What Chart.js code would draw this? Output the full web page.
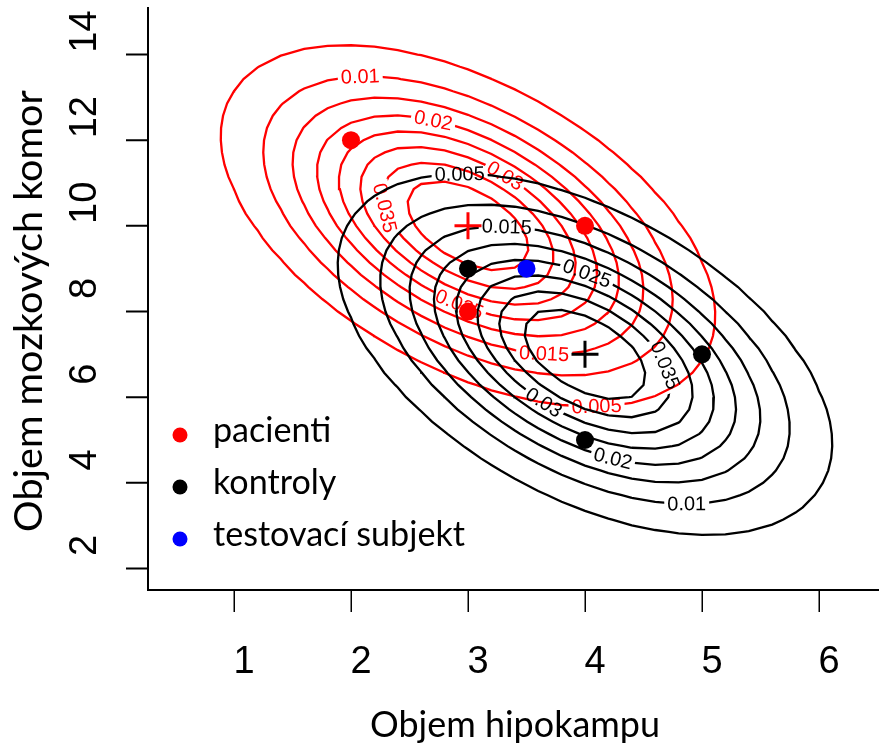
<!DOCTYPE html>
<html>
<head>
<meta charset="utf-8">
<script src="https://cdn.jsdelivr.net/npm/chart.js@4.4.0/dist/chart.umd.min.js"></script>
<style>body{margin:0;background:#fff}</style>
</head>
<body>
<canvas id="graf" width="879" height="748"></canvas>
<script>
// --- data ---
const pacientiX = [2, 4, 3];
const pacientiY = [12, 10, 8];
const kontrolyX = [3, 4, 5];
const kontrolyY = [9, 5, 7];
const testX = [3.5];
const testY = [9];
const urovne = [0.005, 0.01, 0.015, 0.02, 0.025, 0.03, 0.035, 0.04];
const apriorni = 0.5;
const xTicks = [1, 2, 3, 4, 5, 6];
const yTicks = [2, 4, 6, 8, 10, 12, 14];
const legendaTexty = ['pacienti', 'kontroly', 'testovací subjekt'];

// kde zhruba sedí popisky vrstevnic (hladina, x, y)
const stitkyPacienti = [
    { hladina: 0.01, x: 2.08, y: 13.32 },
    { hladina: 0.02, x: 2.69, y: 12.29 },
    { hladina: 0.03, x: 3.27, y: 10.94 },
    { hladina: 0.035, x: 2.35, y: 10.47 },
    { hladina: 0.025, x: 2.93, y: 8.2 },
    { hladina: 0.015, x: 3.65, y: 6.96 },
    { hladina: 0.005, x: 4.1, y: 5.67 }
];
const stitkyKontroly = [
    { hladina: 0.005, x: 2.93, y: 11.05 },
    { hladina: 0.015, x: 3.33, y: 9.81 },
    { hladina: 0.025, x: 3.99, y: 8.71 },
    { hladina: 0.035, x: 4.53, y: 6.56 },
    { hladina: 0.03, x: 3.63, y: 5.79 },
    { hladina: 0.02, x: 4.23, y: 4.46 },
    { hladina: 0.01, x: 4.87, y: 3.45 }
];

const CERVENA = '#ff0000', CERNA = '#000000', MODRA = '#0000ff';
const CISLA = '"Liberation Sans", Arial, sans-serif';
const TEXT = 'Lato, "Open Sans", sans-serif';

// 1. odhad normálního rozdělení ze skupiny
function odhad(xs, ys) {
    const n = xs.length;
    const mx = xs.reduce((a, b) => a + b) / n, my = ys.reduce((a, b) => a + b) / n;
    let sxx = 0, syy = 0, sxy = 0;
    for (let i = 0; i < n; i++) {
        const dx = xs[i] - mx, dy = ys[i] - my;
        sxx += dx * dx; syy += dy * dy; sxy += dx * dy;
    }
    return { mx, my, sxx: sxx / (n - 1), syy: syy / (n - 1), sxy: sxy / (n - 1) };
}
function hustota(p, x, y) {
    const det = p.sxx * p.syy - p.sxy * p.sxy;
    const dx = x - p.mx, dy = y - p.my;
    const q = (p.syy * dx * dx - 2 * p.sxy * dx * dy + p.sxx * dy * dy) / det;
    return apriorni * Math.exp(-q / 2) / (2 * Math.PI * Math.sqrt(det));
}

// 2. vrstevnice na hrubé mřížce (jako contour v R)
const gx = [], gy = [];
for (let i = 0; i <= 40; i++) gx.push(i * 0.2);
for (let j = 0; j <= 56; j++) gy.push(j * 2 / 7);

function vrstevnice(p, L) {
    const v = gy.map(y => gx.map(x => hustota(p, x, y)));
    const bod = {}, sousede = {};
    function hrana(typ, i, j) {
        const id = typ + i + '_' + j;
        if (!bod[id]) {
            let x0, y0, x1, y1, v0, v1;
            if (typ === 'h') { x0 = gx[i]; x1 = gx[i + 1]; y0 = y1 = gy[j]; v0 = v[j][i]; v1 = v[j][i + 1]; }
            else { x0 = x1 = gx[i]; y0 = gy[j]; y1 = gy[j + 1]; v0 = v[j][i]; v1 = v[j + 1][i]; }
            const t = (L - v0) / (v1 - v0);
            bod[id] = { x: x0 + t * (x1 - x0), y: y0 + t * (y1 - y0) };
        }
        return id;
    }
    function spoj(a, b) {
        (sousede[a] = sousede[a] || []).push(b);
        (sousede[b] = sousede[b] || []).push(a);
    }
    for (let j = 0; j < gy.length - 1; j++) {
        for (let i = 0; i < gx.length - 1; i++) {
            const a = v[j][i] > L, b = v[j][i + 1] > L, c = v[j + 1][i + 1] > L, d = v[j + 1][i] > L;
            const hr = [];
            if (a !== b) hr.push(hrana('h', i, j));
            if (b !== c) hr.push(hrana('v', i + 1, j));
            if (c !== d) hr.push(hrana('h', i, j + 1));
            if (d !== a) hr.push(hrana('v', i, j));
            if (hr.length === 2) spoj(hr[0], hr[1]);
            else if (hr.length === 4) {
                const stred = (v[j][i] + v[j][i + 1] + v[j + 1][i + 1] + v[j + 1][i]) / 4 > L;
                if (stred === a) { spoj(hr[0], hr[1]); spoj(hr[2], hr[3]); }
                else { spoj(hr[0], hr[3]); spoj(hr[1], hr[2]); }
            }
        }
    }
    const hotovo = new Set(), cary = [];
    const ids = Object.keys(sousede);
    const starty = ids.filter(id => sousede[id].length === 1).concat(ids);
    for (const start of starty) {
        if (hotovo.has(start)) continue;
        const cara = [];
        let akt = start, pred = null;
        while (akt && !hotovo.has(akt)) {
            hotovo.add(akt);
            cara.push(bod[akt]);
            const dalsi = sousede[akt].find(n => n !== pred && !hotovo.has(n));
            pred = akt; akt = dalsi;
        }
        if (sousede[start].length === 2 && sousede[start].includes(pred)) cara.push(bod[start]);
        cary.push(cara);
    }
    return cary;
}

function vrstevniceDatasety(xs, ys, barva, stitky, poradi) {
    const p = odhad(xs, ys);
    return urovne.map(L => {
        const cary = vrstevnice(p, L);
        const data = [];
        cary.forEach(c => { c.forEach(b => data.push(b)); data.push({ x: NaN, y: NaN }); });
        return {
            data, showLine: true, borderColor: barva, borderWidth: 2.3, pointRadius: 0,
            spanGaps: false, tension: 0, order: poradi,
            cary, popisky: stitky.filter(s => s.hladina === L)
        };
    });
}

const odhadP = odhad(pacientiX, pacientiY), odhadK = odhad(kontrolyX, kontrolyY);
const body = (xs, ys) => xs.map((x, i) => ({ x, y: ys[i] }));

// 3. popisky vrstevnic s přerušením čáry
const popiskyPlugin = {
    id: 'popisky',
    beforeDatasetsDraw(chart) {
        const sx = chart.scales.x, sy = chart.scales.y, ctx = chart.ctx;
        ctx.save();
        ctx.font = '20px ' + CISLA;
        chart.data.datasets.forEach(ds => {
            ds._boxy = [];
            (ds.popisky || []).forEach(s => {
                const cary = ds.cary.map(c => c.map(b => ({ x: sx.getPixelForValue(b.x), y: sy.getPixelForValue(b.y) })));
                const ax = sx.getPixelForValue(s.x), ay = sy.getPixelForValue(s.y);
                let best = null;
                cary.forEach((c, ci) => {
                    for (let k = 0; k < c.length - 1; k++) {
                        const p0 = c[k], p1 = c[k + 1];
                        const vx = p1.x - p0.x, vy = p1.y - p0.y, l2 = vx * vx + vy * vy || 1e-9;
                        let t = ((ax - p0.x) * vx + (ay - p0.y) * vy) / l2;
                        t = Math.max(0, Math.min(1, t));
                        const px = p0.x + t * vx, py = p0.y + t * vy;
                        const d = Math.hypot(ax - px, ay - py);
                        if (!best || d < best.d) best = { ci, k, t, d, px, py };
                    }
                });
                if (!best) return;
                const c = cary[best.ci];
                const cum = [0];
                for (let k = 0; k < c.length - 1; k++) cum.push(cum[k] + Math.hypot(c[k + 1].x - c[k].x, c[k + 1].y - c[k].y));
                const total = cum[cum.length - 1];
                const zavrena = Math.hypot(c[0].x - c[c.length - 1].x, c[0].y - c[c.length - 1].y) < 0.5;
                const s0 = cum[best.k] + best.t * (cum[best.k + 1] - cum[best.k]);
                const bodNa = s => {
                    if (zavrena) s = ((s % total) + total) % total; else s = Math.max(0, Math.min(total, s));
                    let k = 0;
                    while (k < cum.length - 2 && cum[k + 1] < s) k++;
                    const seg = cum[k + 1] - cum[k] || 1e-9, t = (s - cum[k]) / seg;
                    return { x: c[k].x + t * (c[k + 1].x - c[k].x), y: c[k].y + t * (c[k + 1].y - c[k].y) };
                };
                const text = String(s.hladina);
                const w = ctx.measureText(text).width;
                const A = bodNa(s0 - w / 2 - 2), B = bodNa(s0 + w / 2 + 2);
                let ang = Math.atan2(B.y - A.y, B.x - A.x);
                if (ang > Math.PI / 2) ang -= Math.PI;
                if (ang < -Math.PI / 2) ang += Math.PI;
                ds._boxy.push({ x: best.px, y: best.py, ang, w: w + 6, h: 18, text });
            });
        });
        ctx.restore();
    },
    beforeDatasetDraw(chart, args) {
        const ds = chart.data.datasets[args.index];
        if (!ds._boxy || !ds._boxy.length) return;
        const ctx = chart.ctx;
        ctx.save();
        ctx.beginPath();
        ctx.rect(0, 0, chart.width, chart.height);
        ds._boxy.forEach(b => {
            const cs = Math.cos(b.ang), sn = Math.sin(b.ang);
            const roh = [[-b.w / 2, -b.h / 2], [b.w / 2, -b.h / 2], [b.w / 2, b.h / 2], [-b.w / 2, b.h / 2]]
                .map(([u, v]) => [b.x + u * cs - v * sn, b.y + u * sn + v * cs]);
            ctx.moveTo(roh[0][0], roh[0][1]);
            for (let k = 1; k < 4; k++) ctx.lineTo(roh[k][0], roh[k][1]);
            ctx.closePath();
        });
        ctx.clip('evenodd');
    },
    afterDatasetDraw(chart, args) {
        const ds = chart.data.datasets[args.index];
        if (!ds._boxy || !ds._boxy.length) return;
        const ctx = chart.ctx;
        ctx.restore();
        ctx.save();
        ctx.fillStyle = ds.borderColor;
        ctx.font = '20px ' + CISLA;
        ctx.textAlign = 'center';
        ctx.textBaseline = 'middle';
        ds._boxy.forEach(b => {
            ctx.save();
            ctx.translate(b.x, b.y);
            ctx.rotate(b.ang);
            ctx.fillText(b.text, 0, 1);
            ctx.restore();
        });
        ctx.restore();
    }
};

// písmo tak, aby text měl danou šířku
function velikost(ctx, text, rodina, sirka) {
    ctx.font = '40px ' + rodina;
    return 40 * sirka / ctx.measureText(text).width;
}

// 4. osy, popisky os a legenda (R styl)
const osyPlugin = {
    id: 'osy',
    beforeDatasetsDraw(chart) {
        const { ctx, chartArea: a, scales: { x, y } } = chart;
        ctx.save();
        ctx.strokeStyle = CERNA;
        ctx.lineWidth = 2;
        ctx.beginPath();
        ctx.moveTo(a.left, a.top); ctx.lineTo(a.left, a.bottom + 1);
        ctx.moveTo(a.left - 1, a.bottom); ctx.lineTo(a.right, a.bottom);
        yTicks.forEach(t => { const py = y.getPixelForValue(t); ctx.moveTo(a.left - 22, py); ctx.lineTo(a.left, py); });
        ctx.stroke();
        ctx.lineWidth = 1.5;
        ctx.beginPath();
        xTicks.forEach(t => { const px = Math.round(x.getPixelForValue(t)) + 0.25; ctx.moveTo(px, a.bottom); ctx.lineTo(px, a.bottom + 22); });
        ctx.stroke();

        ctx.fillStyle = CERNA;
        ctx.font = '38px ' + CISLA;
        ctx.textAlign = 'center';
        ctx.textBaseline = 'alphabetic';
        xTicks.forEach(t => ctx.fillText(String(t), x.getPixelForValue(t) + 10, 673));
        yTicks.forEach(t => {
            ctx.save();
            ctx.translate(96, y.getPixelForValue(t) - 23);
            ctx.rotate(-Math.PI / 2);
            ctx.fillText(String(t), 0, 0);
            ctx.restore();
        });

        const tx = 'Objem hipokampu', ty = 'Objem mozkových komor';
        ctx.font = velikost(ctx, tx, TEXT, 290) + 'px ' + TEXT;
        ctx.fillText(tx, 515, 737);
        ctx.font = velikost(ctx, ty, TEXT, 442) + 'px ' + TEXT;
        ctx.save();
        ctx.translate(42, 311);
        ctx.rotate(-Math.PI / 2);
        ctx.fillText(ty, 0, 0);
        ctx.restore();
        ctx.restore();
    },
    afterDraw(chart) {
        const ctx = chart.ctx;
        const barvy = [CERVENA, CERNA, MODRA];
        ctx.save();
        ctx.font = velikost(ctx, legendaTexty[2], TEXT, 252) + 'px ' + TEXT;
        ctx.textAlign = 'left';
        ctx.textBaseline = 'alphabetic';
        legendaTexty.forEach((t, i) => {
            const yy = 435 + i * 52;
            ctx.fillStyle = barvy[i];
            ctx.beginPath();
            ctx.arc(180, yy, 7.5, 0, Math.PI * 2);
            ctx.fill();
            ctx.fillStyle = CERNA;
            ctx.fillText(t, 213, yy + 7);
        });
        ctx.restore();
    }
};

// 5. graf
function initChart() {
    const ctx = document.getElementById('graf').getContext('2d');
    window.myChart = new Chart(ctx, {
        type: 'scatter',
        data: {
            datasets: [
                { data: body(pacientiX, pacientiY), backgroundColor: CERVENA, borderColor: CERVENA, pointRadius: 9, pointBorderWidth: 0, order: 0 },
                { data: body(kontrolyX, kontrolyY), backgroundColor: CERNA, borderColor: CERNA, pointRadius: 9, pointBorderWidth: 0, order: 0 },
                { data: body(testX, testY), backgroundColor: MODRA, borderColor: MODRA, pointRadius: 9, pointBorderWidth: 0, order: 0 },
                { data: [{ x: odhadP.mx, y: odhadP.my }], pointStyle: 'cross', pointRadius: 13.5, pointBorderWidth: 3, borderColor: CERVENA, pointBorderColor: CERVENA, order: 0 },
                { data: [{ x: odhadK.mx, y: odhadK.my }], pointStyle: 'cross', pointRadius: 13.5, pointBorderWidth: 3, borderColor: CERNA, pointBorderColor: CERNA, order: 0 },
                ...vrstevniceDatasety(kontrolyX, kontrolyY, CERNA, stitkyKontroly, 1),
                ...vrstevniceDatasety(pacientiX, pacientiY, CERVENA, stitkyPacienti, 2)
            ]
        },
        options: {
            responsive: false,
            animation: false,
            events: [],
            layout: { autoPadding: false, padding: { left: 148, right: 0, top: 7, bottom: 158 } },
            scales: {
                x: { type: 'linear', min: 0.265, max: 6.513, display: false },
                y: { type: 'linear', min: 1.498, max: 15.11, display: false }
            },
            plugins: { legend: { display: false }, tooltip: { enabled: false } }
        },
        plugins: [osyPlugin, popiskyPlugin]
    });
}

window.onload = () => {
    initChart();
};
</script>
</body>
</html>
